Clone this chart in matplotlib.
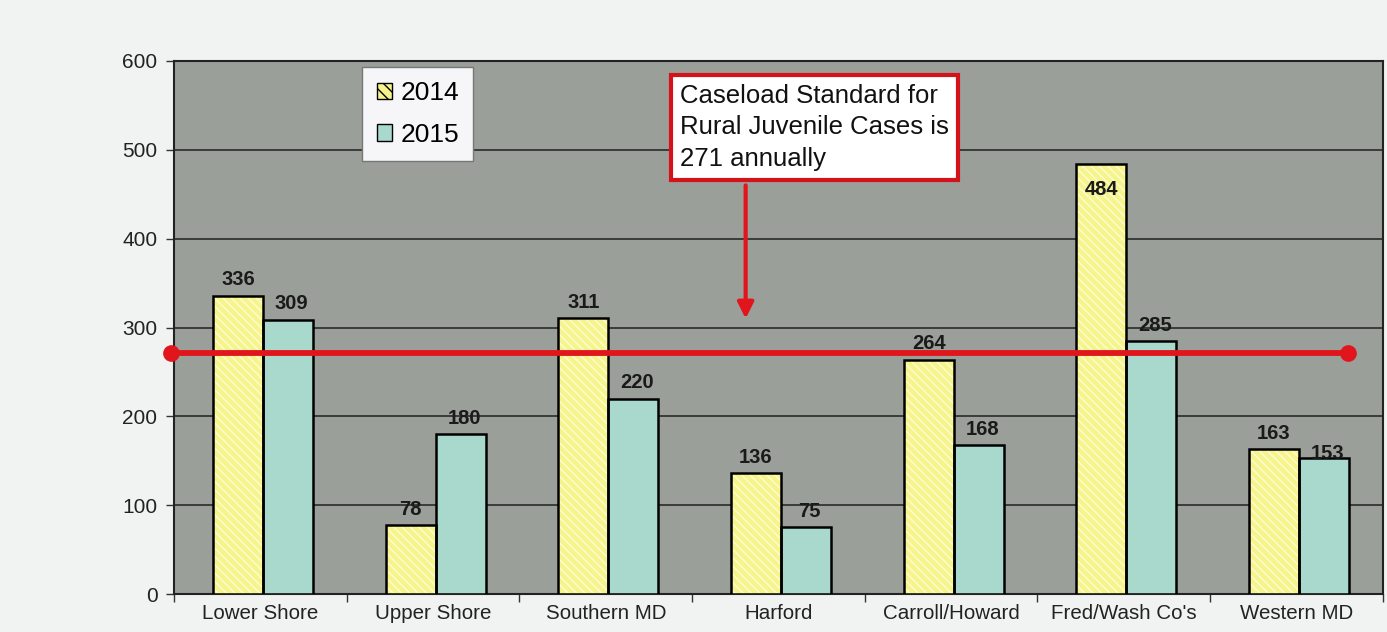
import numpy as np
import matplotlib
matplotlib.use("Agg")
import matplotlib.pyplot as plt
from matplotlib.patches import Patch

plt.rcParams['font.family'] = ['Liberation Sans', 'DejaVu Sans']

# Caseload per attorney by district
districts = ['Lower Shore', 'Upper Shore', 'Southern MD', 'Harford',
             'Carroll/Howard', "Fred/Wash Co's", 'Western MD']
cases_2014 = [336, 78, 311, 136, 264, 484, 163]
cases_2015 = [309, 180, 220, 75, 168, 285, 153]
standard = 271

yellow = '#f6f58c'
teal = '#a9d9cd'
plot_bg = '#9b9f9a'

fig = plt.figure(figsize=(13.87, 6.32), dpi=100)
fig.patch.set_facecolor('#f1f3f3')
ax = fig.add_axes([0.1255, 0.060, 0.8715, 0.8435])
ax.set_facecolor(plot_bg)

x = np.arange(len(districts)) + 0.015
w = 0.29

# hatched fill, then a plain black outline on top
ax.bar(x - w / 2, cases_2014, w, color=yellow, edgecolor='#fdfbd8',
       hatch='\\\\\\\\', linewidth=0, zorder=3)
ax.bar(x - w / 2, cases_2014, w, fill=False, edgecolor='black',
       linewidth=1.8, zorder=4)
ax.bar(x + w / 2, cases_2015, w, color=teal, edgecolor='black',
       linewidth=1.8, zorder=3)

# value labels
lab = dict(fontsize=14.5, fontweight='bold', color='#1a1a1a', zorder=5,
           ha='center')
for xi, v in zip(x, cases_2014):
    if v > 450:
        ax.text(xi - w / 2, v - 18, str(v), va='top', **lab)
    else:
        ax.text(xi - w / 2, v + 7, str(v), va='bottom', **lab)
for xi, v in zip(x, cases_2015):
    ax.text(xi + w / 2 + 0.02, v + 7 if v != 153 else v - 6, str(v),
            va='bottom', **lab)

# caseload standard line
ax.plot([-0.52, 6.30], [standard, standard], color='#e0161c', lw=4.2,
        marker='o', markersize=11, zorder=6, clip_on=False,
        solid_capstyle='butt')

ax.set_xlim(-0.5, len(districts) - 0.5)
ax.set_ylim(0, 600)
ax.set_yticks(range(0, 601, 100))
ax.set_xticks(np.arange(len(districts)))
ax.set_xticklabels(districts, fontsize=14.8, color='#222222')
ax.set_xticks(np.arange(-0.5, len(districts), 1), minor=True)
ax.tick_params(axis='x', which='major', length=0, pad=7)
ax.tick_params(axis='x', which='minor', length=6, width=1, color='#333333')
ax.tick_params(axis='y', labelsize=15, length=6, width=1, color='#333333',
               labelcolor='#222222', pad=6)
ax.grid(axis='y', color='#2a2a2a', linewidth=1.2, zorder=1)
for s in ax.spines.values():
    s.set_color('#222222')
    s.set_linewidth(1.5)

# legend
handles = [Patch(facecolor=yellow, edgecolor='black', hatch='\\\\\\'),
           Patch(facecolor=teal, edgecolor='black')]
leg = ax.legend(handles, ['2014', '2015'], loc='upper left',
                bbox_to_anchor=(0.1555, 0.989), borderaxespad=0,
                fontsize=19, frameon=True, fancybox=False,
                handlelength=0.6, handleheight=0.6, handletextpad=0.3,
                labelspacing=0.65, borderpad=0.55)
leg.get_frame().set_facecolor('#f6f6f8')
leg.get_frame().set_edgecolor('#777777')
leg.get_frame().set_alpha(1)
leg.set_zorder(7)

# annotation box with arrow down to the line
ax.annotate('', xy=(2.81, 310), xytext=(2.81, 460),
            arrowprops=dict(arrowstyle='-|>', color='#e0161c', lw=3,
                            mutation_scale=24, shrinkA=0, shrinkB=0),
            zorder=7)
ax.text(2.43, 574, 'Caseload Standard for\nRural Juvenile Cases is\n271 annually',
        ha='left', va='top', fontsize=18.5, color='#111111', linespacing=1.38,
        zorder=8,
        bbox=dict(boxstyle='square,pad=0.35', facecolor='white',
                  edgecolor='#d4121a', linewidth=3))

fig.savefig('out.png', dpi=100, facecolor=fig.get_facecolor())
